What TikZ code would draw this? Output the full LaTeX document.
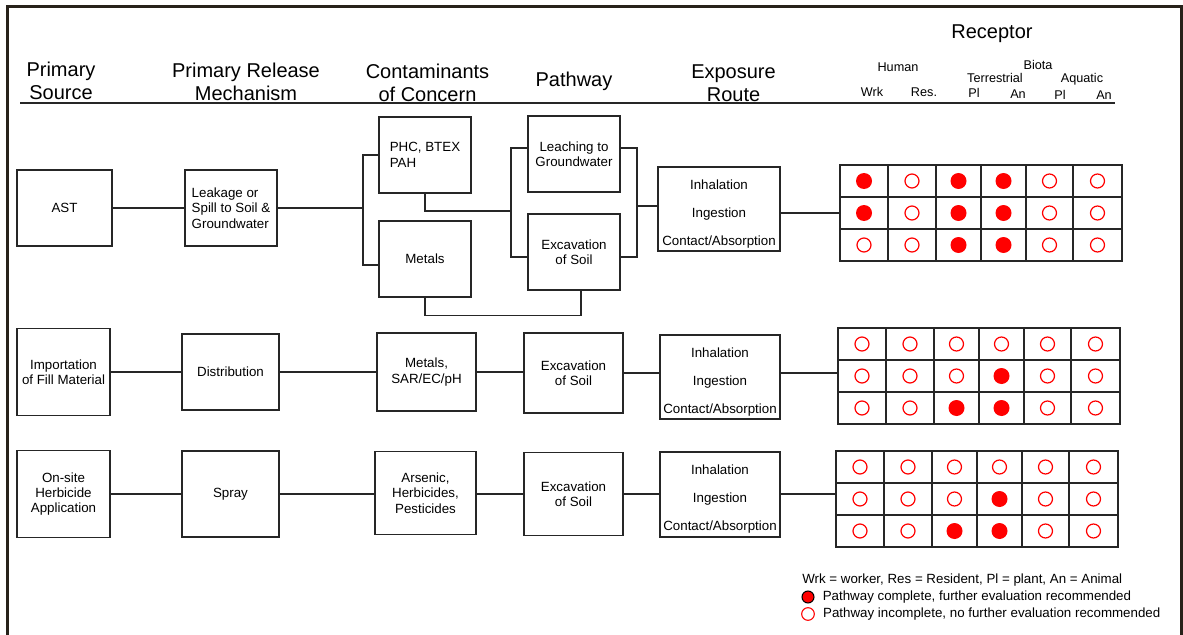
\documentclass[tikz,border=0pt]{standalone}
\usepackage{fontspec}
\setmainfont{Liberation Sans}
\usetikzlibrary{positioning}
\definecolor{framecol}{RGB}{40,34,26}

\begin{document}
\begin{tikzpicture}[x=0.75pt,y=-0.75pt,
  box/.style={draw=black!85,line width=1.1pt,inner sep=0pt,minimum width=69pt,minimum height=57pt,align=center,font=\fontsize{10}{11.5}\selectfont},
  route/.style={box,minimum width=90pt,minimum height=63pt,
    label={[inner sep=0pt,align=center,font=\fontsize{10}{21}\selectfont,yshift=-3.5pt]center:Inhalation\\Ingestion\\Contact/Absorption}},
  head/.style={align=center,inner sep=0pt,font=\fontsize{15}{17.25}\selectfont},
  sub/.style={inner sep=0pt,font=\fontsize{9.5}{11}\selectfont},
  legend/.style={inner sep=0pt,font=\fontsize{10}{12}\selectfont},
  grid/.style={draw=black!85,line width=1.1pt,inner sep=0pt,minimum width=211.5pt,minimum height=72pt},
  link/.style={black!85,line width=1.1pt},
  dotyes/.style={fill=red,radius=6pt},
  dotno/.style={draw=red,line width=0.9pt,radius=5.25pt}]
\useasboundingbox (0,0) rectangle (1183,635);
\draw[framecol,line width=2.25pt] (7,636) -- (7,7) -- (1181,7) -- (1181,636);

\node[head] (hsrc) at (61,80.5) {Primary\\Source};
\node[head] (hrel) at (246,82) {Primary Release\\Mechanism};
\node[head] (hcoc) at (427.5,82.5) {Contaminants\\of Concern};
\node[head] (hpath) at (574,81) {Pathway};
\node[head] (hexp) at (733.5,83) {Exposure\\Route};
\node[head] (hrec) at (992,34) {Receptor};
\node[sub] (hhum) at (898,67) {Human};
\node[sub] (hbio) at (1038,65) {Biota};
\node[sub] (hter) at (995,78) {Terrestrial};
\node[sub] (haqu) at (1082,79) {Aquatic};
\node[sub] (hwrk) at (872,92) {Wrk};
\node[sub] (hres) at (924,92) {Res.};
\node[sub] (hpl1) at (974,93) {Pl};
\node[sub] (han1) at (1018,94) {An};
\node[sub] (hpl2) at (1060,95) {Pl};
\node[sub] (han2) at (1104,95) {An};
\draw[link] (20,103) -- (1115,103);

\node[box,minimum width=71.25pt] (src1) at (64.5,208) {AST};
\node[box,align=left] (rel1) at (231,208) {Leakage or\\Spill to Soil \&\\Groundwater};
\node[box,align=left] (coc1a) at (425,155) {PHC, BTEX\\PAH};
\node[box] (coc1b) at (425,259) {Metals};
\node[box] (path1a) at (574,154) {Leaching to\\Groundwater};
\node[box] (path1b) at (574,252) {Excavation\\of Soil};
\node[route,minimum width=91.5pt] (route1) at (719,209) {};
\coordinate (f1) at (363,208);
\coordinate (f2) at (511,211);
\coordinate (f3) at (637,206);

\node[box,minimum width=69.75pt,minimum height=65.25pt] (src2) at (63.5,372) {Importation\\of Fill Material};
\node[box,minimum width=72.75pt] (rel2) at (230.5,372) {Distribution};
\node[box,minimum width=74.25pt,minimum height=58.5pt] (coc2) at (426.5,372) {Metals,\\SAR/EC/pH};
\node[box,minimum width=74.25pt,minimum height=60pt] (path2) at (573.5,373) {Excavation\\of Soil};
\node[route] (route2) at (720,377) {};

\node[box,minimum width=69.75pt,minimum height=65.25pt] (src3) at (63.5,494) {On-site\\Herbicide\\Application};
\node[box,minimum width=72.75pt,minimum height=64.5pt] (rel3) at (230.5,494) {Spray};
\node[box,minimum width=75.75pt,minimum height=62.25pt] (coc3) at (425.5,493) {Arsenic,\\Herbicides,\\Pesticides};
\node[box,minimum width=74.25pt,minimum height=62.25pt] (path3) at (573.5,494) {Excavation\\of Soil};
\node[route,minimum height=63.75pt] (route3) at (720,494.5) {};

\foreach \g/\gx/\gy in {g1/840/165,g2/838/328,g3/836/451}{
  \node[grid] (\g) at (\gx+141,\gy+48) {};
  \foreach \cx in {48,96,141,186,233}
    \draw[link] (\gx+\cx,\gy) -- ++(0,96);
  \foreach \cy in {32,64}
    \draw[link] (\gx,\gy+\cy) -- ++(282,0);
}

\foreach \r/\pat in {0/{1,0,1,1,0,0},1/{1,0,1,1,0,0},2/{0,0,1,1,0,0}}
  \foreach \v [count=\c] in \pat {
    \pgfmathsetmacro\cx{{24,72,118.5,163.5,209.5,257.5}[\c-1]}
    \ifnum\v=1 \path[dotyes] (840+\cx,181+32*\r) circle; \else \path[dotno] (840+\cx,181+32*\r) circle; \fi
  }
\foreach \r/\pat in {0/{0,0,0,0,0,0},1/{0,0,0,1,0,0},2/{0,0,1,1,0,0}}
  \foreach \v [count=\c] in \pat {
    \pgfmathsetmacro\cx{{24,72,118.5,163.5,209.5,257.5}[\c-1]}
    \ifnum\v=1 \path[dotyes] (838+\cx,344+32*\r) circle; \else \path[dotno] (838+\cx,344+32*\r) circle; \fi
  }
\foreach \r/\pat in {0/{0,0,0,0,0,0},1/{0,0,0,1,0,0},2/{0,0,1,1,0,0}}
  \foreach \v [count=\c] in \pat {
    \pgfmathsetmacro\cx{{24,72,118.5,163.5,209.5,257.5}[\c-1]}
    \ifnum\v=1 \path[dotyes] (836+\cx,467+32*\r) circle; \else \path[dotno] (836+\cx,467+32*\r) circle; \fi
  }

\draw[link] (src1) -- (rel1);
\draw[link] (rel1) -- (f1);
\draw[link] (coc1a.west) -| (f1) |- ([yshift=-4.5pt]coc1b.west);
\draw[link] (coc1a.south) |- (f2);
\draw[link] ([yshift=4.5pt]path1a.west) -| (f2) |- ([yshift=-3.75pt]path1b.west);
\draw[link] (coc1b.south) -- ++(0,18) -| ([xshift=5.25pt]path1b.south);
\draw[link] ([yshift=4.5pt]path1a.east) -| (f3) |- ([yshift=-3.75pt]path1b.east);
\draw[link] (f3) -- (f3 -| route1.west);
\draw[link] (g1.west -| route1.east) -- (g1.west);

\draw[link] (src2) -- (rel2);
\draw[link] (rel2) -- (coc2);
\draw[link] (coc2) -- (coc2 -| path2.west);
\draw[link] (path2.east) -- (path2.east -| route2.west);
\draw[link] (path2.east -| route2.east) -- (path2.east -| g2.west);

\draw[link] (src3) -- (rel3);
\draw[link] (rel3) -- (rel3 -| coc3.west);
\draw[link] (rel3 -| coc3.east) -- (rel3 -| path3.west);
\draw[link] (path3.east) -- (path3.east -| route3.west);
\draw[link] (path3.east -| route3.east) -- (path3.east -| g3.west);

\node[legend,anchor=west] (key) at (802,580) {Wrk = worker, Res = Resident, Pl = plant, An = Animal};
\node[circle,fill=red,draw=black,line width=0.8pt,minimum size=9pt,inner sep=0pt] (kyes) at (808,597) {};
\node[legend,right=6pt of kyes] (tyes) {Pathway complete, further evaluation recommended};
\node[circle,draw=red,line width=0.8pt,minimum size=9.5pt,inner sep=0pt] (kno) at (808,614) {};
\node[legend,right=6pt of kno] (tno) {Pathway incomplete, no further evaluation recommended};
\end{tikzpicture}
\end{document}
